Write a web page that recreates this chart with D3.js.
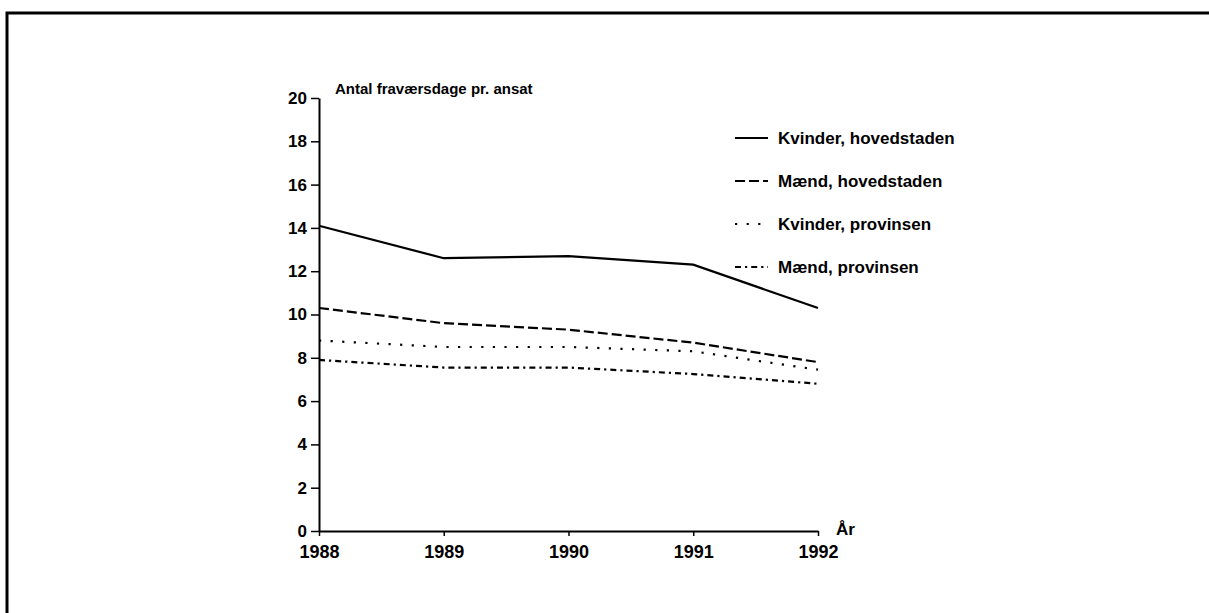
<!DOCTYPE html>
<html>
<head>
<meta charset="utf-8">
<script src="https://cdn.jsdelivr.net/npm/d3@7"></script>
<style>
  body { margin: 0; background: #fff; }
  svg { display: block; }
  text { font-family: "Liberation Sans", Arial, sans-serif; font-weight: bold; fill: #000; }
</style>
</head>
<body>
<svg id="chart" width="1209" height="613"></svg>
<script>
// data
var years = [1988, 1989, 1990, 1991, 1992];
var kvinderHoved = [14.1, 12.6, 12.7, 12.3, 10.3];
var maendHoved   = [10.3, 9.6, 9.3, 8.7, 7.8];
var kvinderProv  = [8.8, 8.5, 8.5, 8.3, 7.45];
var maendProv    = [7.9, 7.55, 7.55, 7.25, 6.8];
var yTicks = [0, 2, 4, 6, 8, 10, 12, 14, 16, 18, 20];

var series = [
  { name: 'Kvinder, hovedstaden', values: kvinderHoved, dash: null },
  { name: 'Mænd, hovedstaden',    values: maendHoved,   dash: '10,4' },
  { name: 'Kvinder, provinsen',   values: kvinderProv,  dash: '2.2,9.4' },
  { name: 'Mænd, provinsen',      values: maendProv,    dash: '6,4,2.2,4' }
];

var svg = d3.select('#chart');

svg.append('rect')
  .attr('width', 1209).attr('height', 613)
  .attr('fill', '#fff');

// frame of the scanned page
svg.append('path')
  .attr('d', 'M7,613 V13 H1209')
  .attr('fill', 'none')
  .attr('stroke', '#000')
  .attr('stroke-width', 3);

var x = d3.scaleLinear().domain([1988, 1992]).range([319, 818]);
var y = d3.scaleLinear().domain([0, 20]).range([531, 98]);

/**
 * Axes
 */
var yAxis = svg.append('g')
  .attr('transform', 'translate(319,0)')
  .call(d3.axisLeft(y)
    .tickValues(yTicks)
    .tickSize(8)
    .tickSizeOuter(0)
    .tickPadding(4));

var xAxis = svg.append('g')
  .attr('transform', 'translate(0,531)')
  .call(d3.axisBottom(x)
    .tickValues(years)
    .tickFormat(d3.format('d'))
    .tickSize(5)
    .tickSizeOuter(0)
    .tickPadding(9));

[yAxis, xAxis].forEach(function (ax) {
  ax.select('.domain').attr('stroke-width', 2);
  ax.selectAll('.tick line').attr('stroke-width', 1.5);
  ax.selectAll('text')
    .style('font-family', '"Liberation Sans", Arial, sans-serif')
    .style('font-weight', 'bold');
});
yAxis.selectAll('text').style('font-size', '17px');
xAxis.selectAll('text').style('font-size', '18px');

svg.append('text')
  .attr('x', 335).attr('y', 94)
  .style('font-size', '15px')
  .text('Antal fraværsdage pr. ansat');

svg.append('text')
  .attr('x', 836).attr('y', 535)
  .style('font-size', '17px')
  .text('År');

/**
 * Lines
 */
var line = d3.line()
  .x(function (d, i) { return x(years[i]); })
  .y(function (d) { return y(d); });

svg.append('g')
  .selectAll('path')
  .data(series)
  .enter()
  .append('path')
  .attr('d', function (d) { return line(d.values); })
  .attr('fill', 'none')
  .attr('stroke', '#000')
  .attr('stroke-width', 2.2)
  .attr('stroke-dasharray', function (d) { return d.dash; });

/**
 * Legend
 */
var legend = svg.append('g')
  .selectAll('g')
  .data(series)
  .enter()
  .append('g')
  .attr('transform', function (d, i) {
    return 'translate(735,' + (138 + i * 43) + ')';
  });

legend.append('line')
  .attr('x1', 0).attr('x2', 33)
  .attr('stroke', '#000')
  .attr('stroke-width', 2)
  .attr('stroke-dasharray', function (d) { return d.dash; });

legend.append('text')
  .attr('x', 43).attr('y', 6)
  .style('font-size', '17px')
  .text(function (d) { return d.name; });
</script>
</body>
</html>
